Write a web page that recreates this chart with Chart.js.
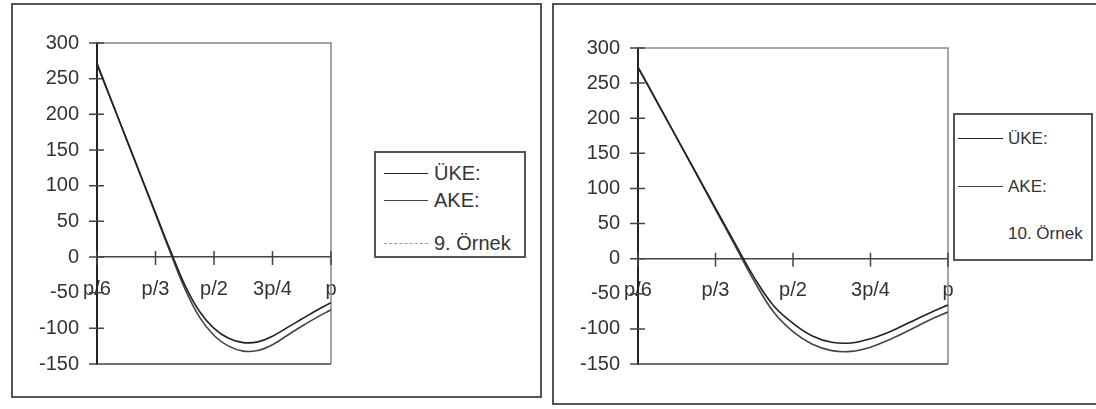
<!doctype html>
<html>
  <head>
    <meta charset="utf-8">
    <title>ÜKE / AKE</title>
    <style>
      html, body {
        margin: 0;
        height: 100%;
        background: #fff;
        overflow: hidden;
        font-family: "Liberation Sans", Arial, Helvetica, sans-serif;
      }
      .panel {
        position: absolute;
        border: 2px solid #555;
        box-sizing: border-box;
      }
      .panel canvas {
        position: absolute;
        left: 0;
        top: 0;
      }
      .legend {
        position: absolute;
        border: 2px solid #555;
        background: #fff;
        box-sizing: border-box;
        color: #333;
      }
      .legend .item {
        position: absolute;
        white-space: nowrap;
        line-height: 1;
      }
      .legend .sample {
        position: absolute;
        height: 0;
      }
    </style>
  </head>
  <body>

    <div class="panel" style="left:11px; top:3px; width:531px; height:395px;">
      <canvas id="left" width="527" height="391"></canvas>
    </div>
    <div class="panel" style="left:552px; top:3px; width:560px; height:402px;">
      <canvas id="right" width="556" height="398"></canvas>
    </div>
    <div id="legend-left" class="legend" style="left:374px; top:151px; width:152px; height:107px; font-size:20px;"></div>
    <div id="legend-right" class="legend" style="left:953px; top:113px; width:140px; height:148px; font-size:17px;"></div>

    <script src="https://cdn.jsdelivr.net/npm/chart.js@4.4.1/dist/chart.umd.min.js"></script>
    <script>
      // x positions: 0 = p/6 ... 4 = p
      var xValues = [0, 0.25, 0.5, 0.75, 1, 1.25, 1.5, 1.75, 2, 2.25, 2.5, 2.75, 3, 3.25, 3.5, 3.75, 4]
      var xTickLabels = ['p/6', 'p/3', 'p/2', '3p/4', 'p']

      // 9. Örnek
      var uke9 = [270, 218, 166, 114, 62, 10, -39, -76, -100, -114, -120, -119, -111, -99, -87, -75, -64]
      var ake9 = [272, 219, 166, 113, 60, 7, -44, -84, -110, -125, -132, -131, -123, -110, -97, -85, -74]

      // 10. Örnek
      var uke10 = [272, 222, 172, 122, 72, 22, -27, -67, -92, -110, -119, -120, -114, -104, -91, -78, -66]
      var ake10 = [273, 223, 172, 121, 70, 19, -32, -76, -104, -122, -131, -132, -126, -115, -102, -88, -76]

      var toPoints = function(ys) {
        return xValues.map(function(x, i) { return {x: x, y: ys[i]} })
      }

      // frame of the plot + ticks crossing the axes
      var framePlugin = {
        id: 'frame',
        beforeDatasetsDraw: function(chart) {
          var ctx = chart.ctx
          var a = chart.chartArea
          var xs = chart.scales.x
          var ys = chart.scales.y
          ctx.save()
          ctx.lineWidth = 1.5
          ctx.strokeStyle = '#888'
          ctx.beginPath()
          ctx.moveTo(a.left, a.top)
          ctx.lineTo(a.right, a.top)
          ctx.lineTo(a.right, a.bottom)
          ctx.stroke()
          ctx.strokeStyle = '#444'
          ctx.beginPath()
          ctx.moveTo(a.left, a.bottom)
          ctx.lineTo(a.right, a.bottom)
          var y0 = ys.getPixelForValue(0)
          ys.ticks.forEach(function(t) {
            var py = ys.getPixelForValue(t.value)
            ctx.moveTo(a.left - 8, py)
            ctx.lineTo(a.left + 7, py)
          })
          xs.ticks.forEach(function(t) {
            var px = xs.getPixelForValue(t.value)
            ctx.moveTo(px, y0 - 6)
            ctx.lineTo(px, y0 + 8)
          })
          ctx.stroke()
          ctx.restore()
        }
      }

      var makeChart = function(id, uke, ake, sampleLabel, pad, fontSize) {
        var font = {family: '"Liberation Sans", Arial, sans-serif', size: fontSize}
        return new Chart(document.getElementById(id), {
          type: 'line',
          data: {
            datasets: [
              {label: 'ÜKE:', data: toPoints(uke), borderColor: '#222', borderWidth: 1.6,
               pointRadius: 0, tension: 0.4},
              {label: 'AKE:', data: toPoints(ake), borderColor: '#444', borderWidth: 1.6,
               pointRadius: 0, tension: 0.4},
              {label: sampleLabel, data: [], borderColor: id == 'left' ? '#999' : 'rgba(0,0,0,0)',
               borderDash: [6, 5], borderWidth: 1.2, pointRadius: 0}
            ]
          },
          options: {
            responsive: false,
            animation: false,
            layout: {padding: pad},
            plugins: {
              legend: {display: false},
              tooltip: {enabled: false}
            },
            scales: {
              x: {
                type: 'linear',
                min: 0,
                max: 4,
                position: {y: 0},
                grid: {drawOnChartArea: false, drawTicks: false},
                border: {color: '#444', width: 1.5},
                ticks: {
                  stepSize: 1,
                  autoSkip: false,
                  maxRotation: 0,
                  padding: 20,
                  color: '#333',
                  font: font,
                  callback: function(v) { return xTickLabels[Math.round(v)] }
                }
              },
              y: {
                min: -150,
                max: 300,
                grid: {drawOnChartArea: false, drawTicks: false},
                border: {color: '#222', width: 2},
                ticks: {stepSize: 50, padding: 18, color: '#333', font: font},
                afterFit: function(scale) { scale.width = 84 }
              }
            }
          },
          plugins: [framePlugin]
        })
      }

      // html legend built from the datasets
      var buildLegend = function(chart, boxId, rows, sampleX, sampleW, textX) {
        var box = document.getElementById(boxId)
        chart.data.datasets.forEach(function(ds, i) {
          var line = document.createElement('div')
          line.className = 'sample'
          line.style.left = sampleX + 'px'
          line.style.top = rows[i] + 'px'
          line.style.width = sampleW + 'px'
          line.style.borderTop = ds.borderDash ? '1.5px dashed ' + ds.borderColor : '1.6px solid ' + ds.borderColor
          box.appendChild(line)
          var txt = document.createElement('div')
          txt.className = 'item'
          txt.textContent = ds.label
          txt.style.left = textX + 'px'
          txt.style.top = rows[i] + 'px'
          txt.style.transform = 'translateY(-50%)'
          box.appendChild(txt)
        })
      }

      var leftChart = makeChart('left', uke9, ake9, '9. Örnek', {left: 0, top: 38, right: 209, bottom: 32}, 20)
      var rightChart = makeChart('right', uke10, ake10, '10. Örnek', {left: 0, top: 43, right: 162, bottom: 39}, 20)

      buildLegend(leftChart, 'legend-left', [20, 47, 90], 8, 44, 58)
      buildLegend(rightChart, 'legend-right', [23, 71, 118], 3, 45, 53)
    </script>
  </body>
</html>
